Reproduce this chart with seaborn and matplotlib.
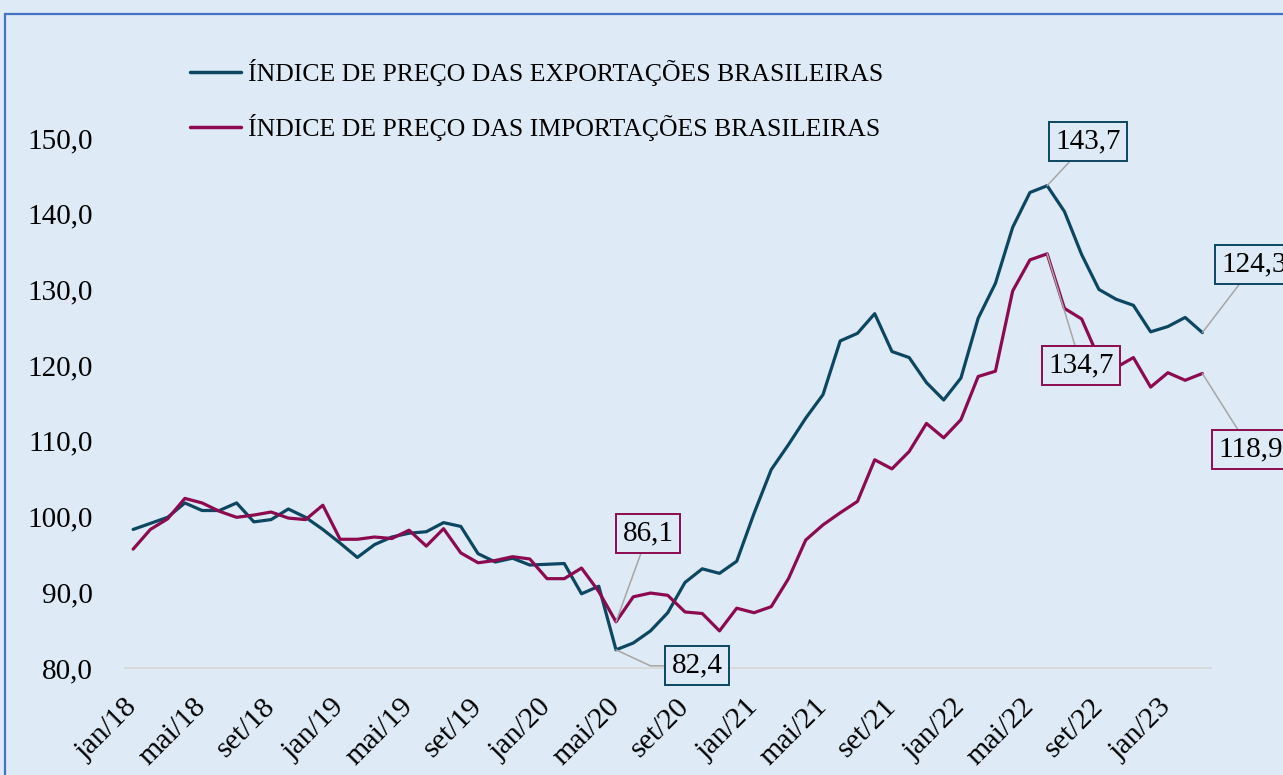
import matplotlib
matplotlib.use("Agg")
import matplotlib.pyplot as plt
import matplotlib.patches as mpatches
from matplotlib.ticker import FuncFormatter, FixedLocator
import numpy as np
import pandas as pd
import seaborn as sns

# --- data -------------------------------------------------------------------
month_abbr = ["jan", "fev", "mar", "abr", "mai", "jun",
              "jul", "ago", "set", "out", "nov", "dez"]
years = ["18", "19", "20", "21", "22", "23"]
categories = [f"{m}/{y}" for y in years for m in month_abbr][:63]  # jan/18 .. mar/23

exportacoes = [
    98.3, 99.1, 99.9, 101.8, 100.8, 100.8, 101.8, 99.3, 99.6, 101.0,
    99.9, 98.3, 96.5, 94.6, 96.3, 97.3, 97.8, 98.0, 99.2, 98.7,
    95.1, 94.0, 94.5, 93.6, 93.7, 93.8, 89.8, 90.8, 82.4, 83.3,
    84.9, 87.3, 91.3, 93.1, 92.5, 94.1, 100.4, 106.2, 109.5, 113.0,
    116.1, 123.2, 124.2, 126.8, 121.8, 121.0, 117.7, 115.4, 118.3, 126.2,
    130.8, 138.2, 142.8, 143.7, 140.3, 134.6, 130.0, 128.7, 127.9, 124.4,
    125.1, 126.3, 124.3,
]
importacoes = [
    95.7, 98.3, 99.7, 102.4, 101.8, 100.7, 99.9, 100.2, 100.6, 99.8,
    99.6, 101.5, 97.0, 97.0, 97.3, 97.1, 98.2, 96.1, 98.4, 95.2,
    93.9, 94.2, 94.7, 94.4, 91.8, 91.8, 93.2, 90.1, 86.1, 89.4,
    89.9, 89.6, 87.4, 87.2, 84.9, 87.9, 87.3, 88.1, 91.8, 96.9,
    98.9, 100.5, 102.0, 107.5, 106.3, 108.6, 112.3, 110.4, 112.8, 118.5,
    119.2, 129.8, 133.9, 134.7, 127.5, 126.1, 120.9, 119.7, 121.0, 117.1,
    119.0, 118.0, 118.9,
]
label_exp = "ÍNDICE DE PREÇO DAS EXPORTAÇÕES BRASILEIRAS"
label_imp = "ÍNDICE DE PREÇO DAS IMPORTAÇÕES BRASILEIRAS"

# annotated points: (series, index, offset in pixels of the label centre)
callouts = [
    ("exp", 28, (81, -16), "angle"),
    ("imp", 28, (32, 88), None),
    ("exp", 53, (41, 44), None),
    ("imp", 53, (34, -112), None),
    ("exp", 62, (52, 68), None),
    ("imp", 62, (48, -76), None),
]

# --- style ------------------------------------------------------------------
BG = "#DEEAF6"
C_EXP = "#0D4661"
C_IMP = "#8C0B50"
GRAY = "#A6A6A6"

sns.set_theme(style="white")
plt.rcParams["font.family"] = ["Liberation Serif", "DejaVu Serif"]
plt.rcParams["text.color"] = "black"
plt.rcParams["xtick.color"] = "black"
plt.rcParams["ytick.color"] = "black"

df = pd.DataFrame({
    "pos": np.arange(len(categories)),
    "exp": exportacoes,
    "imp": importacoes,
})

fig = plt.figure(figsize=(12.83, 7.75), dpi=100, facecolor=BG)
ax = fig.add_axes([124.5 / 1283, 1 - 668 / 775, (1211 - 124.5) / 1283, (668 - 138) / 775])
ax.set_facecolor(BG)

sns.lineplot(data=df, x="pos", y="exp", ax=ax, color=C_EXP, lw=2.3, label=label_exp)
sns.lineplot(data=df, x="pos", y="imp", ax=ax, color=C_IMP, lw=2.3, label=label_imp)

ax.set_xlim(-0.5, len(categories) - 0.5)
ax.set_ylim(80, 150)
ax.set_xlabel("")
ax.set_ylabel("")

# y axis
ax.yaxis.set_major_locator(FixedLocator(np.arange(80, 151, 10)))
ax.yaxis.set_major_formatter(FuncFormatter(lambda v, p: f"{v:.1f}".replace(".", ",")))
ax.tick_params(axis="y", length=0, pad=23, labelsize=21, labelcolor="black")

# x axis: labels every 4 months, tick marks on category boundaries
label_pos = df["pos"].values[::4]
ax.set_xticks(label_pos)
ax.set_xticklabels([categories[i] for i in label_pos], rotation=45, ha="right",
                   va="center", rotation_mode="anchor", fontsize=21.5)
ax.tick_params(axis="x", which="major", length=0, pad=25, labelcolor="black")
ax.set_xticks(np.arange(-0.5, len(categories), 4), minor=True)
ax.tick_params(axis="x", which="minor", length=7, width=1.3, color="#D9D9D9", direction="out")

for side in ["left", "right", "top"]:
    ax.spines[side].set_visible(False)
ax.spines["bottom"].set_color("#D9D9D9")
ax.spines["bottom"].set_linewidth(1.3)

# legend
leg = ax.legend(loc="upper left", bbox_to_anchor=(190 / 1283, 1 - 59 / 775),
                bbox_transform=fig.transFigure, frameon=False, fontsize=18.5,
                handlelength=2.0, handletextpad=0.25, labelspacing=1.1,
                borderaxespad=0, borderpad=0)
for line in leg.get_lines():
    line.set_linewidth(2.5)
for t in leg.get_texts():
    t.set_color("black")

# callouts
series = {"exp": (exportacoes, C_EXP), "imp": (importacoes, C_IMP)}
for key, idx, off, style in callouts:
    vals, col = series[key]
    txt = f"{vals[idx]:.1f}".replace(".", ",")
    if style == "angle":
        cs = "angle,angleA=0,angleB=-25,rad=0"
    else:
        cs = "arc3"
    ax.annotate(txt, xy=(idx, vals[idx]), xytext=off, textcoords="offset pixels",
                ha="center", va="center", fontsize=21, color="black",
                annotation_clip=False,
                bbox=dict(boxstyle="square,pad=0.22", fc=BG, ec=col, lw=1.4),
                arrowprops=dict(arrowstyle="-", color=GRAY, lw=1.1,
                                shrinkA=0, shrinkB=0, connectionstyle=cs),
                zorder=5)

# chart border
fig.patches.append(mpatches.Rectangle((5 / 1283, -0.1), 1.2, 1.1 - 14 / 775,
                                      transform=fig.transFigure, fill=False,
                                      ec="#4472C4", lw=1.6))

fig.savefig("out.png", dpi=100, facecolor=BG)
